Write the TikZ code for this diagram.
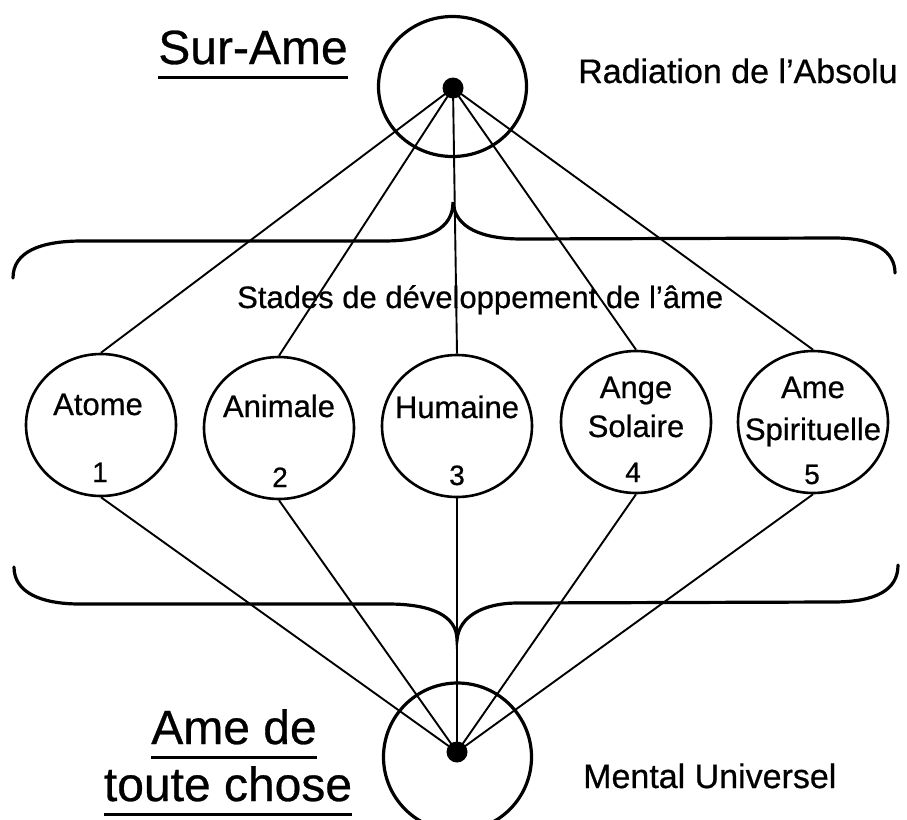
\documentclass[tikz,border=0pt]{standalone}
\usepackage{fontspec}
\setmainfont{Liberation Sans}[FakeBold=0.6]
\usetikzlibrary{shapes.geometric}
\begin{document}
\begin{tikzpicture}[x=1pt,y=-1pt,
  ring/.style={draw, ellipse, line width=3.2pt, inner sep=0},
  stage/.style={draw, ellipse, line width=2.6pt, minimum width=150pt, minimum height=142pt, inner sep=0},
  dotn/.style={circle, fill, minimum size=21pt, inner sep=0},
  link/.style={line width=1.9pt},
  brace/.style={line width=3.2pt, line cap=round},
  big/.style={inner sep=0, anchor=base, font=\fontsize{48}{48}\selectfont},
  txt/.style={inner sep=0, anchor=base west, font=\fontsize{31}{31}\selectfont},
  side/.style={inner sep=0, anchor=base west, font=\fontsize{34}{34}\selectfont},
  lbl/.style={inner sep=0, anchor=base, font=\fontsize{31}{31}\selectfont},
  num/.style={inner sep=0, anchor=base, font=\fontsize{28}{28}\selectfont},
  uline/.style={line width=3pt}]
\useasboundingbox (0,0) rectangle (907,819);
\clip (0,0) rectangle (907,819);
\fill[white] (0,0) rectangle (907,819);

% top and bottom rings
\node[ring, minimum width=148pt, minimum height=140pt] (topring) at (452.5,86.5) {};
\node[dotn] (topdot) at (453,88) {};
\node[ring, minimum width=148pt, minimum height=148pt] (botring) at (457.5,757) {};
\node[dotn] (botdot) at (457,752) {};

% stage ellipses
\node[stage] (e1) at (101,425) {};
\node[stage] (e2) at (279,428) {};
\node[stage] (e3) at (457,426) {};
\node[stage] (e4) at (636,422) {};
\node[stage] (e5) at (813,422) {};

% labels
\node[lbl] (t1) at (98,415) {Atome};
\node[lbl] (t2) at (279,417) {Animale};
\node[lbl] (t3) at (457,418) {Humaine};
\node[lbl] (t4a) at (636,398) {Ange};
\node[lbl] (t4b) at (636,437) {Solaire};
\node[lbl] (t5a) at (813,398) {Ame};
\node[lbl] (t5b) at (813,440) {Spirituelle};
\node[num] (n1) at (100,482) {1};
\node[num] (n2) at (280,487) {2};
\node[num] (n3) at (457,485) {3};
\node[num] (n4) at (633,482) {4};
\node[num] (n5) at (812,484) {5};

% connectors
\foreach \e in {e1,e2,e3,e4,e5}{
  \draw[link] (topdot.center) -- (\e.north);
  \draw[link] (\e.south) -- (botdot.center);
}

% braces
\draw[brace] (13,278) .. controls (13,252) and (40,241) .. (82,241) -- (383,241)
  .. controls (430,241) and (453,228) .. (453,202)
  .. controls (455,228) and (482,239) .. (522,239) -- (834,238)
  .. controls (876,238) and (895,252) .. (895,273);
\draw[brace] (14,567) .. controls (14,592) and (40,604) .. (80,604) -- (388,604)
  .. controls (432,604) and (457,616) .. (457,640)
  .. controls (459,616) and (484,603) .. (518,603) -- (833,602)
  .. controls (876,602) and (898,590) .. (898,565);

% texts
\node[txt] (stades) at (237,308) {Stades de développement de l’âme};
\node[side] (radiation) at (578,83) {Radiation de l’Absolu};
\node[side] (mental) at (583,788) {Mental Universel};

\node[big] (sur) at (253,64) {Sur-Ame};
\draw[uline] ([yshift=-13pt]sur.base west) -- ([yshift=-13pt]sur.base east);
\node[big] (ame1) at (234,744) {Ame de};
\draw[uline] ([yshift=-13pt]ame1.base west) -- ([yshift=-13pt]ame1.base east);
\node[big] (ame2) at (228,801) {toute chose};
\draw[uline] ([yshift=-13pt]ame2.base west) -- ([yshift=-13pt]ame2.base east);
\end{tikzpicture}
\end{document}
